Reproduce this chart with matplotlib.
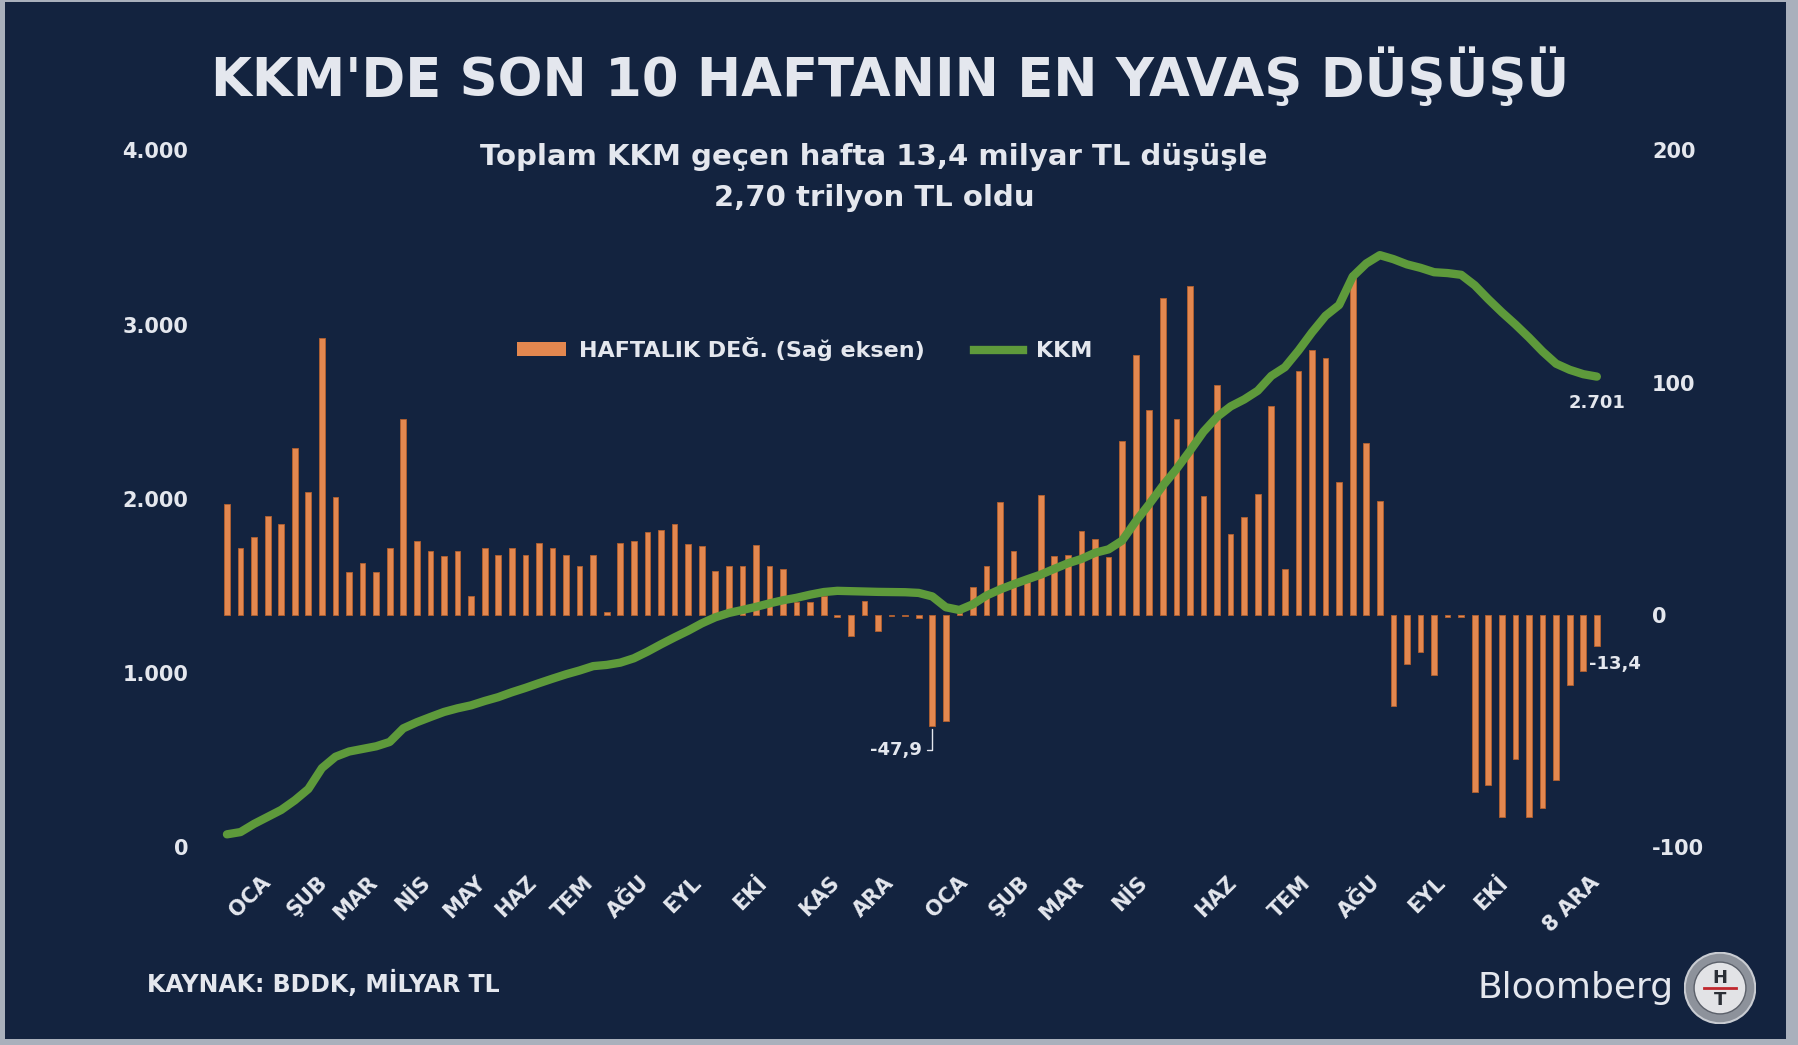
import matplotlib
matplotlib.use("Agg")
import matplotlib.pyplot as plt
from matplotlib.patches import Rectangle, Circle, Patch
from matplotlib.lines import Line2D

# weekly change, milyar TL (right axis)
weekly_change = [
    47.6, 29, 33.5, 42.5, 39, 72, 53, 119, 50.6, 18.5, 22.3, 18.5, 29, 84.5, 32,
    27.5, 25.3, 27.5, 8, 29, 26, 28.7, 26, 31, 29, 26, 21, 26, 1.5, 31, 32, 35.5,
    36.5, 39, 30.5,
    29.6, 19, 21, 21, 30, 21, 20, 5.5, 5.5, 8, -1, -9, 6, -7, -0.5, -0.5, -1.5,
    -47.9, -45.5, 1,
    12, 21, 48.5, 27.5, 14, 51.5, 25.3, 26, 36, 32.6, 25, 75, 112, 88, 136.5, 84.4,
    141.5, 51, 99, 35, 42, 52, 90, 19.6, 105, 114, 110.6, 57.4, 147, 74, 49,
    -39, -21, -16, -26, -1, -1, -76, -73, -87, -62, -87, -83, -71, -30, -24, -13.4,
]

# total KKM stock, milyar TL (left axis)
kkm_total = [
    75, 88, 135, 175, 215, 270, 335, 455, 520, 550, 565, 580, 605, 683, 718, 748,
    777, 798, 815, 840, 862, 890, 915, 942, 968, 993, 1015, 1040, 1047, 1060, 1085,
    1123, 1165, 1205, 1243,
    1285, 1320, 1345, 1362, 1380, 1400, 1418, 1432, 1450, 1465, 1472, 1470, 1468,
    1466, 1465, 1464, 1460, 1440, 1378, 1362, 1395, 1445, 1480, 1510, 1538, 1565,
    1598, 1630, 1655, 1690,
    1710, 1760, 1870, 1970, 2075, 2170, 2275, 2385, 2470, 2530, 2570, 2620, 2705,
    2755, 2850, 2955, 3050, 3112, 3275, 3350, 3398, 3375, 3345, 3325, 3300, 3295,
    3285, 3225, 3145, 3070, 3000, 2925, 2845, 2775, 2740, 2715, 2701,
]

month_pos = [1.7, 5.9, 9.5, 13.7, 17.5, 21.3, 25.5, 29.6, 33.6, 38.6, 43.7, 47.7,
             53.1, 57.7, 61.5, 66.6, 72.9, 78.4, 83.5, 88.5, 93.2, 99.1]
month_labels = ["OCA", "ŞUB", "MAR", "NİS", "MAY", "HAZ", "TEM", "AĞU", "EYL", "EKİ",
                "KAS", "ARA", "OCA", "ŞUB", "MAR", "NİS", "HAZ", "TEM", "AĞU", "EYL",
                "EKİ", "8 ARA"]

left_ticks = [0, 1000, 2000, 3000, 4000]
left_ticklabels = ["0", "1.000", "2.000", "3.000", "4.000"]
right_ticks = [-100, 0, 100, 200]

NAVY = "#13233f"
TXT = "#e4e7ee"
ORANGE = "#e3874f"
GREEN = "#5e9a3b"
W, H = 1798, 1045

fig = plt.figure(figsize=(W / 100, H / 100), dpi=100, facecolor="#a9b0bc")
fig.patches.append(Rectangle((5 / W, 6 / H), 1781 / W, 1037 / H,
                             transform=fig.transFigure, facecolor=NAVY,
                             edgecolor="none", zorder=-10))

def fx(px):
    return px / W

def fy(py):
    return 1 - py / H

# main axes: bars on the right scale, KKM line on the left scale
ax = fig.add_axes([fx(213.4), fy(847.4), fx(1397), 697.2 / H])
ax.patch.set_visible(False)
x = list(range(len(weekly_change)))
ax.bar(x, weekly_change, width=0.42, color=ORANGE, edgecolor="#b4602f", linewidth=0.6)
ax.set_xlim(-1, 102)
ax.set_ylim(-100, 200)

ax2 = ax.twinx()
ax2.patch.set_visible(False)
ax2.plot(x, kkm_total, color=GREEN, lw=6, solid_capstyle="round", zorder=5)
ax2.set_ylim(0, 4000)
ax2.yaxis.tick_left()
ax2.set_yticks(left_ticks)
ax2.set_yticklabels(left_ticklabels)
ax2.tick_params(axis="y", length=0, pad=18, labelsize=15, labelcolor=TXT)
for lab in ax2.get_yticklabels():
    lab.set_fontweight("bold")
for s in ax2.spines.values():
    s.set_visible(False)

# right scale for the weekly bars
ax.yaxis.tick_right()
ax.set_yticks(right_ticks)
ax.set_yticklabels([str(t) for t in right_ticks])
ax.tick_params(axis="y", left=False, labelleft=False, right=True, labelright=True,
               length=0, pad=30, labelsize=15, labelcolor=TXT)
ax.set_xticks(month_pos)
ax.set_xticklabels(month_labels, rotation=45, ha="center", va="top")
ax.tick_params(axis="x", length=0, pad=18, labelsize=15, labelcolor=TXT)
for lab in ax.get_xticklabels() + ax.get_yticklabels():
    lab.set_fontweight("bold")
for s in ax.spines.values():
    s.set_visible(False)

# annotations
ax.annotate("-47,9", xy=(52, -47.9), xytext=(51.2, -58), color=TXT, fontsize=13,
            fontweight="bold", ha="right", va="center",
            arrowprops=dict(arrowstyle="-", color=TXT, lw=1,
                            connectionstyle="angle,angleA=0,angleB=90,rad=0"))
ax.text(100.4, -21, "-13,4", color=TXT, fontsize=13, fontweight="bold",
        ha="left", va="center")
ax2.text(101, 2550, "2.701", color=TXT, fontsize=13, fontweight="bold",
         ha="center", va="center")

# legend
handles = [Patch(facecolor=ORANGE, edgecolor="none"),
           Line2D([0], [0], color=GREEN, lw=6)]
leg = fig.legend(handles, ["HAFTALIK DEĞ. (Sağ eksen)", "KKM"], ncol=2,
                 loc="center", bbox_to_anchor=(fx(805), fy(349)), frameon=False,
                 handlelength=2.2, handleheight=0.6, columnspacing=2.2,
                 handletextpad=0.6, prop=dict(size=16, weight="bold"))
for t in leg.get_texts():
    t.set_color(TXT)

# titles
fig.text(fx(890), fy(77), "KKM'DE SON 10 HAFTANIN EN YAVAŞ DÜŞÜŞÜ", color=TXT,
         fontsize=38, fontweight="bold", ha="center", va="center")
fig.text(fx(874), fy(157), "Toplam KKM geçen hafta 13,4 milyar TL düşüşle",
         color=TXT, fontsize=21, fontweight="bold", ha="center", va="center")
fig.text(fx(874), fy(198), "2,70 trilyon TL oldu",
         color=TXT, fontsize=21, fontweight="bold", ha="center", va="center")

# footer
fig.text(fx(147), fy(983), "KAYNAK: BDDK, MİLYAR TL", color=TXT, fontsize=17,
         fontweight="bold", ha="left", va="center")
fig.text(fx(1674), fy(988), "Bloomberg", color=TXT, fontsize=26,
         fontweight="medium", ha="right", va="center")

# HT logo
lax = fig.add_axes([fx(1684), fy(1024), fx(72), 72 / H])
lax.set_xlim(-1, 1)
lax.set_ylim(-1, 1)
lax.set_aspect("equal")
lax.axis("off")
lax.add_patch(Circle((0, 0), 0.98, facecolor="#8d929b", edgecolor="#c9ccd2", lw=1.5))
lax.add_patch(Circle((0, 0), 0.72, facecolor="#e2e3e6", edgecolor="#5b606a", lw=1))
lax.text(0, 0.28, "H", ha="center", va="center", fontsize=13, fontweight="bold",
         color="#2b2f36")
lax.text(0, -0.32, "T", ha="center", va="center", fontsize=13, fontweight="bold",
         color="#2b2f36")
lax.plot([-0.45, 0.45], [0, 0], color="#c0272d", lw=2)

fig.savefig("out.png", dpi=100, facecolor=fig.get_facecolor())
